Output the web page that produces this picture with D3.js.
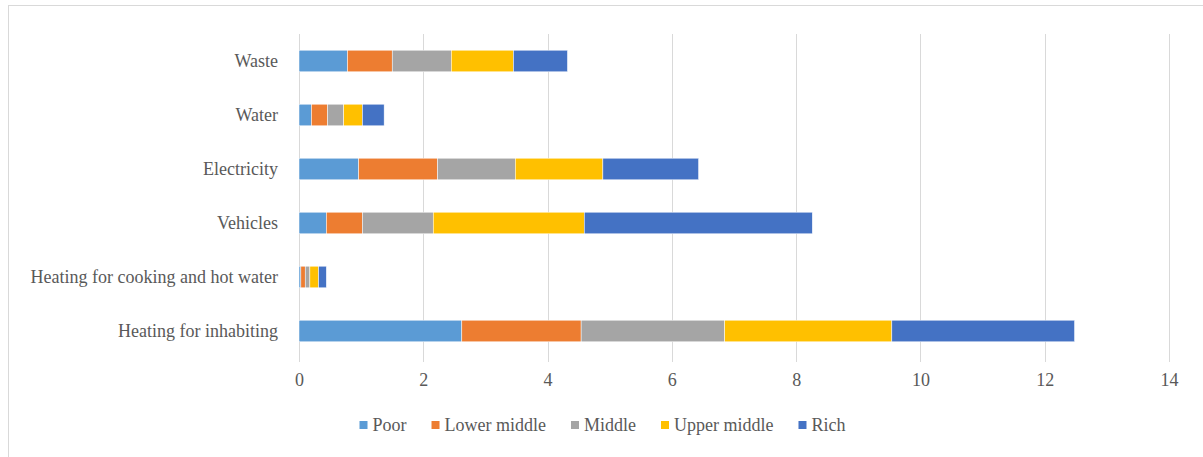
<!DOCTYPE html>
<html>
<head>
<meta charset="utf-8">
<script src="https://cdn.jsdelivr.net/npm/d3@7"></script>
<style>
  html, body { margin: 0; padding: 0; background: #fff; }
  svg { display: block; }
  text { font-family: "Liberation Serif", "Times New Roman", serif; fill: #595959; }
</style>
</head>
<body>
<svg id="chart" width="1203" height="457"></svg>
<script>
const categories = ["Waste", "Water", "Electricity", "Vehicles", "Heating for cooking and hot water", "Heating for inhabiting"];
const seriesNames = ["Poor", "Lower middle", "Middle", "Upper middle", "Rich"];
const poor        = [0.78, 0.20, 0.96, 0.44, 0.03, 2.62];
const lowerMiddle = [0.72, 0.26, 1.27, 0.58, 0.07, 1.92];
const middle      = [0.95, 0.26, 1.25, 1.14, 0.075, 2.31];
const upperMiddle = [1.00, 0.30, 1.41, 2.43, 0.14, 2.69];
const rich        = [0.87, 0.35, 1.54, 3.67, 0.125, 2.94];
const xTicks = [0, 2, 4, 6, 8, 10, 12, 14];
const colors = ["#5B9BD5", "#ED7D31", "#A5A5A5", "#FFC000", "#4472C4"];

const seriesValues = [poor, lowerMiddle, middle, upperMiddle, rich];
const rows = categories.map((c, i) => {
  const r = { category: c };
  seriesNames.forEach((s, j) => r[s] = seriesValues[j][i]);
  return r;
});
const stacked = d3.stack().keys(seriesNames)(rows);

const svg = d3.select("#chart");
const FONT = "'Liberation Serif', 'Times New Roman', serif";

// chart border
svg.append("rect")
  .attr("x", 8.5).attr("y", 5.5)
  .attr("width", 1210).attr("height", 470)
  .attr("fill", "none").attr("stroke", "#D9D9D9").attr("stroke-width", 1);

const x = d3.scaleLinear().domain([0, 14]).range([299, 1169]);
const y = d3.scaleBand().domain(categories).range([34, 358]).paddingInner(0.6).paddingOuter(0.3);
const color = d3.scaleOrdinal().domain(seriesNames).range(colors);

// gridlines
svg.append("g").selectAll("line").data(xTicks).join("line")
  .attr("x1", d => Math.round(x(d)) + 0.5).attr("x2", d => Math.round(x(d)) + 0.5)
  .attr("y1", 34).attr("y2", 362)
  .attr("stroke", "#D9D9D9").attr("stroke-width", 1);

// x axis tick labels
const xAxis = d3.axisBottom(x).tickValues(xTicks).tickSize(0).tickPadding(0).tickFormat(d3.format("d"));
const gx = svg.append("g").attr("transform", "translate(0,373)").call(xAxis);
gx.attr("font-family", null);
gx.select(".domain").remove();
gx.selectAll("text").style("font-size", "18px").style("font-family", FONT).style("fill", "#595959");

// y axis labels
const yAxis = d3.axisLeft(y).tickSize(0).tickPadding(0);
const gy = svg.append("g").attr("transform", "translate(278,0)").call(yAxis);
gy.attr("font-family", null);
gy.select(".domain").remove();
gy.selectAll("text").style("font-size", "18px").style("font-family", FONT).style("fill", "#595959");

// bars
svg.append("g").selectAll("g").data(stacked).join("g")
  .attr("fill", d => color(d.key))
  .selectAll("rect").data(d => d).join("rect")
  .attr("x", d => x(d[0]))
  .attr("width", d => x(d[1]) - x(d[0]))
  .attr("y", d => y(d.data.category))
  .attr("height", y.bandwidth())
  .attr("stroke", "#ffffff").attr("stroke-width", 0.5);

// legend
const legend = svg.append("g");
let lx = 359.5;
seriesNames.forEach((s, i) => {
  const g = legend.append("g").attr("transform", `translate(${lx},0)`);
  g.append("rect").attr("x", 0).attr("y", 421).attr("width", 8).attr("height", 8).attr("fill", colors[i]);
  const t = g.append("text").attr("x", 13).attr("y", 431)
    .style("font-size", "18px").style("font-family", FONT).text(s);
  const w = t.node().getComputedTextLength();
  lx += 13 + w + 25;
});
</script>
</body>
</html>
